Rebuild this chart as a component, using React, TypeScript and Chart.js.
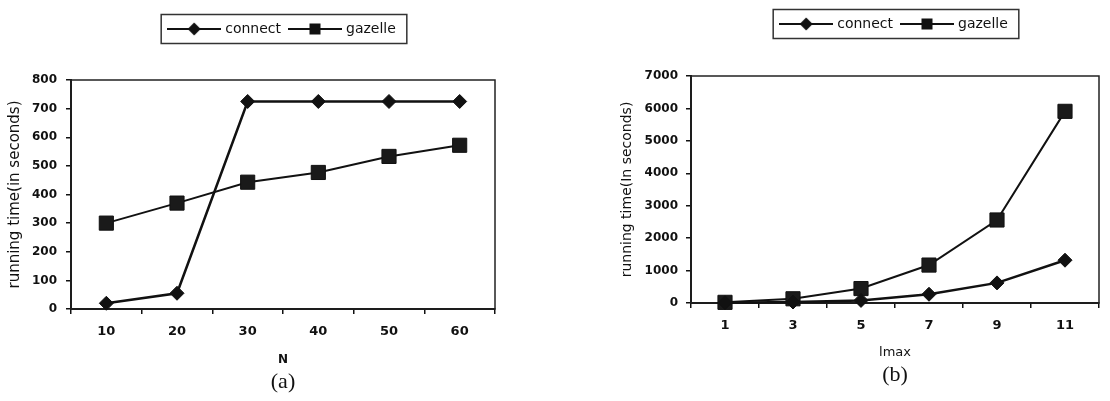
import { useEffect, useRef } from 'react';
import { Chart, registerables } from 'chart.js';

Chart.register(...registerables);

// ---- data ----
const seriesNames = ['connect', 'gazelle'];

const nCategories = ['10', '20', '30', '40', '50', '60'];
const nConnect = [20, 55, 725, 725, 725, 725];
const nGazelle = [300, 370, 443, 477, 533, 572];

const lmaxCategories = ['1', '3', '5', '7', '9', '11'];
const lmaxConnect = [10, 30, 80, 270, 620, 1320];
const lmaxGazelle = [20, 130, 445, 1170, 2560, 5910];

const FONT = "'DejaVu Sans', sans-serif";
const INK = '#111';

function makeIcon(kind: 'diamond' | 'square') {
  const c = document.createElement('canvas');
  c.width = 54;
  c.height = 16;
  const g = c.getContext('2d')!;
  g.strokeStyle = INK;
  g.fillStyle = INK;
  g.lineWidth = 2;
  g.beginPath();
  g.moveTo(0, 8);
  g.lineTo(54, 8);
  g.stroke();
  if (kind === 'diamond') {
    g.beginPath();
    g.moveTo(27, 1.5);
    g.lineTo(33.5, 8);
    g.lineTo(27, 14.5);
    g.lineTo(20.5, 8);
    g.closePath();
    g.fill();
  } else {
    g.fillRect(21.5, 2.5, 11, 11);
  }
  return c;
}

const framePlugin = {
  id: 'frame',
  beforeDatasetsDraw(chart: any) {
    const { ctx, chartArea: a } = chart;
    ctx.save();
    ctx.strokeStyle = '#222';
    ctx.lineWidth = 1.5;
    ctx.strokeRect(a.left, a.top, a.right - a.left, a.bottom - a.top);
    ctx.restore();
  },
  afterDraw(chart: any) {
    const hb = chart.legend && chart.legend.legendHitBoxes;
    if (!hb || !hb.length) return;
    const first = hb[0];
    const last = hb[hb.length - 1];
    const cy = first.top + first.height / 2;
    const ctx = chart.ctx;
    ctx.save();
    ctx.strokeStyle = '#333';
    ctx.lineWidth = 1.5;
    ctx.strokeRect(first.left - 9, cy - 14.5, last.left + last.width + 11 - (first.left - 9), 29);
    ctx.restore();
  },
};

interface Panel {
  labels: string[];
  connect: number[];
  gazelle: number[];
  yMax: number;
  yStep: number;
  xTitle: string;
  xTitleFont: any;
  yTitle: string;
  yTitleSize: number;
  caption: string;
  pad: { top: number; left: number; right: number; bottom: number };
  yWidth: number;
  xHeight: number;
  spacer: number;
  yTickPad: number;
}

const panelA: Panel = {
  labels: nCategories,
  connect: nConnect,
  gazelle: nGazelle,
  yMax: 800,
  yStep: 100,
  xTitle: 'N',
  xTitleFont: { family: FONT, size: 12, weight: 'bold' },
  yTitle: 'running time(in seconds)',
  yTitleSize: 15,
  caption: '(a)',
  pad: { top: 12, left: 0, right: 60, bottom: 5.6 },
  yWidth: 71,
  xHeight: 60,
  spacer: 34,
  yTickPad: 9,
};

const panelB: Panel = {
  labels: lmaxCategories,
  connect: lmaxConnect,
  gazelle: lmaxGazelle,
  yMax: 7000,
  yStep: 1000,
  xTitle: 'lmax',
  xTitleFont: { family: FONT, size: 13, weight: 'normal' },
  yTitle: 'running time(In seconds)',
  yTitleSize: 14,
  caption: '(b)',
  pad: { top: 7, left: 58, right: 3, bottom: 12.4 },
  yWidth: 78,
  xHeight: 59.2,
  spacer: 35,
  yTickPad: 8,
};

function PanelChart({ p, left }: { p: Panel; left: number }) {
  const ref = useRef<HTMLCanvasElement | null>(null);
  useEffect(() => {
    if (!ref.current) return;
    const icons = [makeIcon('diamond'), makeIcon('square')];
    const defaultGen = (Chart.defaults as any).plugins.legend.labels.generateLabels;
    const chart = new Chart(ref.current, {
      type: 'line',
      data: {
        labels: p.labels,
        datasets: [
          {
            label: seriesNames[0],
            data: p.connect,
            borderColor: INK,
            backgroundColor: INK,
            borderWidth: 2.5,
            pointStyle: 'rectRot',
            pointRadius: 7,
            pointBorderWidth: 1,
            pointBackgroundColor: INK,
            pointBorderColor: INK,
            tension: 0,
            clip: false as any,
          },
          {
            label: seriesNames[1],
            data: p.gazelle,
            borderColor: INK,
            backgroundColor: INK,
            borderWidth: 2,
            pointStyle: 'rect',
            pointRadius: 10,
            pointBorderWidth: 1,
            pointBackgroundColor: '#1a1a1a',
            pointBorderColor: INK,
            tension: 0,
            clip: false as any,
          },
        ],
      },
      options: {
        responsive: false,
        animation: false,
        layout: { padding: p.pad },
        scales: {
          x: {
            type: 'category',
            offset: true,
            grid: {
              display: true,
              drawOnChartArea: false,
              drawTicks: true,
              tickLength: 5,
              offset: true,
              color: INK,
              lineWidth: 1.5,
            },
            border: { display: true, color: INK, width: 2 },
            ticks: {
              color: INK,
              font: { family: FONT, size: 13, weight: 'bold' },
              padding: 10,
              maxRotation: 0,
              autoSkip: false,
            },
            title: {
              display: true,
              text: p.xTitle,
              color: INK,
              font: p.xTitleFont,
              padding: { top: 0, bottom: 2 },
            },
            afterFit(s: any) {
              s.height = p.xHeight;
            },
          },
          y: {
            min: 0,
            max: p.yMax,
            grid: {
              display: true,
              drawOnChartArea: false,
              drawTicks: true,
              tickLength: 5,
              color: INK,
              lineWidth: 1.5,
            },
            border: { display: true, color: INK, width: 2 },
            ticks: {
              stepSize: p.yStep,
              color: INK,
              font: { family: FONT, size: 12, weight: 'bold' },
              padding: p.yTickPad,
              callback: (v: any) => String(v),
            },
            title: {
              display: true,
              text: p.yTitle,
              color: INK,
              font: { family: FONT, size: p.yTitleSize, weight: 'normal' },
              padding: { top: 6, bottom: 0 },
            },
            afterFit(s: any) {
              s.width = p.yWidth;
            },
          },
        },
        plugins: {
          legend: {
            display: true,
            position: 'top',
            fullSize: false,
            labels: {
              usePointStyle: true,
              pointStyleWidth: 48,
              padding: 10,
              color: INK,
              font: { family: FONT, size: 14, weight: 'normal' },
              generateLabels(chart: any) {
                const items = defaultGen(chart);
                return items.map((it: any, i: number) => ({ ...it, pointStyle: icons[i], lineWidth: 0 }));
              },
            },
          },
          subtitle: {
            display: true,
            text: ' ',
            position: 'top',
            fullSize: false,
            weight: 500,
            font: { family: FONT, size: 10 },
            padding: { top: p.spacer - 12, bottom: 0 },
          },
          title: {
            display: true,
            text: p.caption,
            position: 'bottom',
            fullSize: false,
            color: INK,
            font: { family: "'Liberation Serif', serif", size: 22, weight: 'normal' },
            padding: { top: 0, bottom: 0 },
          },
          tooltip: { enabled: false },
        },
      } as any,
      plugins: [framePlugin],
    });
    return () => chart.destroy();
  }, [p]);
  return (
    <canvas
      ref={ref}
      width={555}
      height={401}
      style={{ position: 'absolute', left, top: 0, width: 555, height: 401, display: 'block' }}
    />
  );
}

export default function App() {
  return (
    <div style={{ position: 'absolute', left: 0, top: 0, width: 1110, height: 401, background: '#fff' }}>
      <PanelChart p={panelA} left={0} />
      <PanelChart p={panelB} left={555} />
    </div>
  );
}
